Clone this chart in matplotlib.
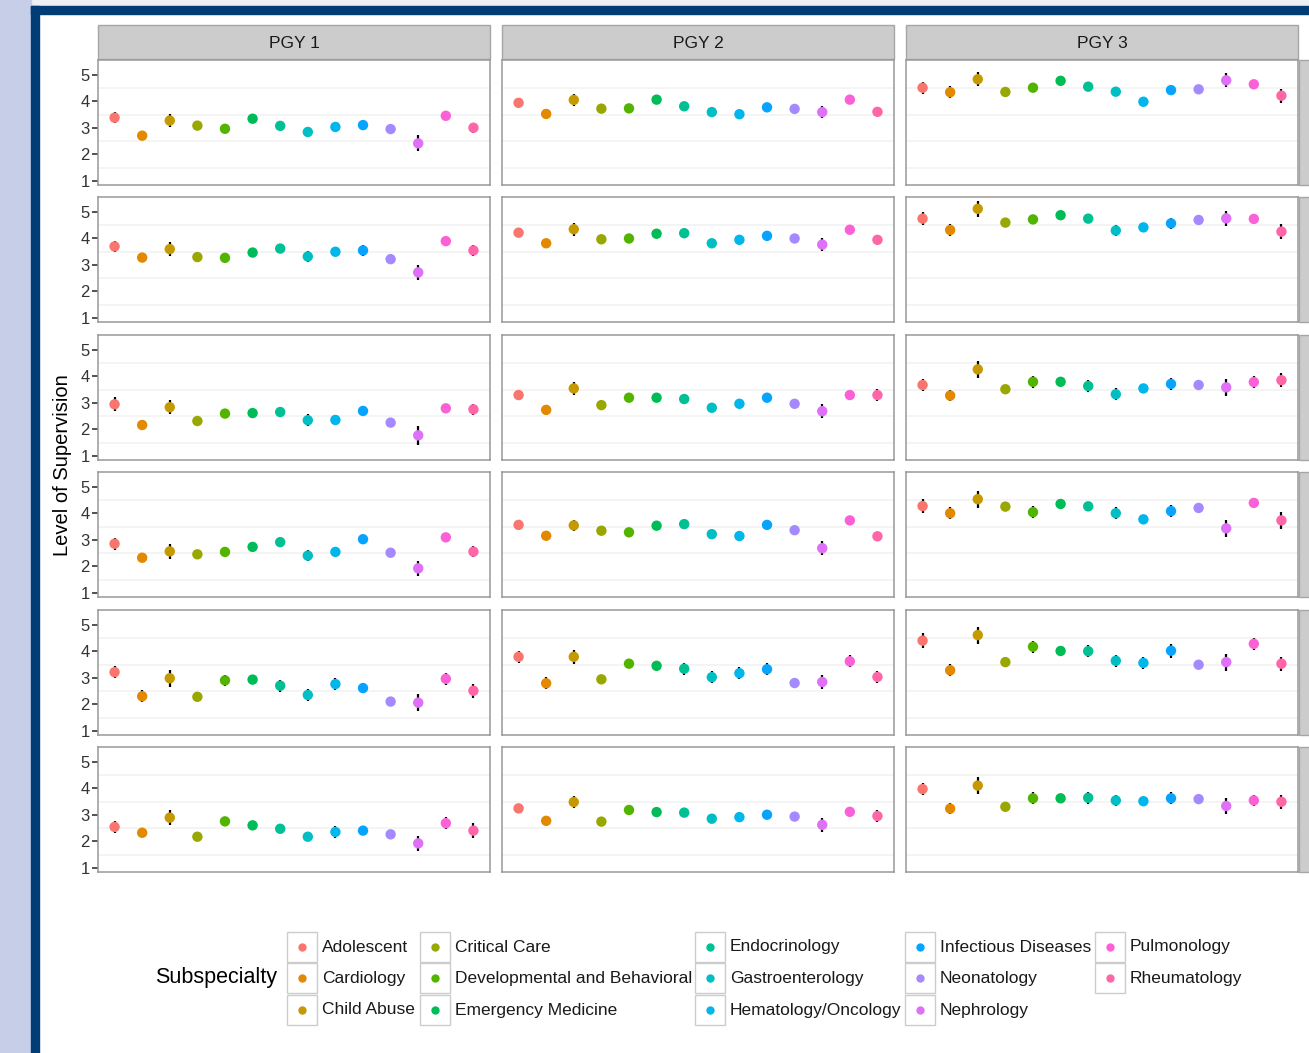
import matplotlib
matplotlib.use('Agg')
import matplotlib.pyplot as plt
from matplotlib.patches import Rectangle

plt.rcParams['font.family'] = ['Liberation Sans', 'DejaVu Sans']

W, H = 1309, 1053

#----------------------------------------
# categories
subspecialties = ['Adolescent', 'Cardiology', 'Child Abuse', 'Critical Care',
                  'Developmental and Behavioral', 'Emergency Medicine',
                  'Endocrinology', 'Gastroenterology', 'Hematology/Oncology',
                  'Infectious Diseases', 'Neonatology', 'Nephrology',
                  'Pulmonology', 'Rheumatology']
years = ['PGY 1', 'PGY 2', 'PGY 3']

# ggplot hue palette, 14 levels
colors = ['#F8766D', '#E38900', '#C49A00', '#99A800', '#53B400', '#00BC56',
          '#00C094', '#00BFC4', '#00B6EB', '#06A4FF', '#A58AFF', '#DF70F8',
          '#FB61D7', '#FF66A8']

#----------------------------------------
# mean level of supervision, one list per year (PGY 1, 2, 3), one block per facet row
row1_mean = [[3.39, 2.71, 3.28, 3.09, 2.97, 3.35, 3.08, 2.85, 3.04, 3.11, 2.96, 2.42, 3.46, 3.01],
             [3.95, 3.53, 4.06, 3.73, 3.74, 4.07, 3.82, 3.60, 3.52, 3.78, 3.72, 3.60, 4.07, 3.61],
             [4.52, 4.35, 4.84, 4.36, 4.52, 4.78, 4.56, 4.37, 3.99, 4.43, 4.46, 4.80, 4.65, 4.22]]
row1_err = [[0.22, 0.10, 0.24, 0.10, 0.10, 0.10, 0.10, 0.10, 0.10, 0.17, 0.10, 0.30, 0.17, 0.19],
            [0.10, 0.10, 0.24, 0.10, 0.10, 0.10, 0.10, 0.10, 0.10, 0.10, 0.10, 0.24, 0.10, 0.10],
            [0.22, 0.22, 0.27, 0.10, 0.10, 0.10, 0.10, 0.17, 0.10, 0.17, 0.10, 0.27, 0.10, 0.27]]

row2_mean = [[3.70, 3.28, 3.60, 3.30, 3.27, 3.47, 3.62, 3.32, 3.50, 3.55, 3.22, 2.72, 3.90, 3.55],
             [4.22, 3.82, 4.35, 3.97, 4.00, 4.18, 4.20, 3.82, 3.95, 4.10, 4.00, 3.77, 4.33, 3.95],
             [4.75, 4.32, 5.12, 4.60, 4.72, 4.88, 4.75, 4.30, 4.42, 4.57, 4.70, 4.76, 4.74, 4.26]]
row2_err = [[0.22, 0.10, 0.27, 0.10, 0.10, 0.10, 0.10, 0.22, 0.10, 0.22, 0.10, 0.27, 0.17, 0.22],
            [0.10, 0.10, 0.24, 0.10, 0.10, 0.10, 0.10, 0.10, 0.10, 0.10, 0.10, 0.24, 0.10, 0.17],
            [0.24, 0.22, 0.30, 0.10, 0.10, 0.10, 0.17, 0.22, 0.17, 0.20, 0.10, 0.27, 0.20, 0.27]]

row3_mean = [[2.95, 2.17, 2.84, 2.32, 2.60, 2.62, 2.66, 2.35, 2.36, 2.70, 2.26, 1.78, 2.80, 2.76],
             [3.30, 2.74, 3.55, 2.92, 3.20, 3.20, 3.15, 2.82, 2.97, 3.20, 2.97, 2.69, 3.30, 3.30],
             [3.68, 3.28, 4.27, 3.52, 3.80, 3.80, 3.64, 3.33, 3.55, 3.72, 3.68, 3.59, 3.79, 3.86]]
row3_err = [[0.27, 0.17, 0.27, 0.10, 0.17, 0.10, 0.10, 0.22, 0.17, 0.17, 0.10, 0.35, 0.17, 0.22],
            [0.17, 0.14, 0.24, 0.10, 0.10, 0.10, 0.10, 0.17, 0.17, 0.10, 0.10, 0.27, 0.10, 0.22],
            [0.22, 0.22, 0.32, 0.10, 0.22, 0.17, 0.22, 0.22, 0.17, 0.22, 0.10, 0.32, 0.22, 0.27]]

row4_mean = [[2.86, 2.33, 2.57, 2.46, 2.55, 2.74, 2.92, 2.41, 2.55, 3.03, 2.52, 1.93, 3.10, 2.56],
             [3.57, 3.16, 3.55, 3.35, 3.29, 3.54, 3.60, 3.22, 3.15, 3.57, 3.37, 2.69, 3.74, 3.14],
             [4.28, 4.01, 4.54, 4.26, 4.05, 4.36, 4.27, 4.01, 3.78, 4.09, 4.21, 3.44, 4.40, 3.74]]
row4_err = [[0.22, 0.17, 0.27, 0.10, 0.10, 0.10, 0.17, 0.22, 0.10, 0.17, 0.10, 0.27, 0.17, 0.22],
            [0.17, 0.10, 0.22, 0.10, 0.10, 0.10, 0.10, 0.10, 0.10, 0.10, 0.10, 0.27, 0.10, 0.17],
            [0.27, 0.22, 0.32, 0.10, 0.22, 0.10, 0.17, 0.22, 0.10, 0.22, 0.10, 0.32, 0.17, 0.32]]

row5_mean = [[3.22, 2.31, 2.99, 2.29, 2.91, 2.94, 2.71, 2.36, 2.77, 2.62, 2.11, 2.07, 2.97, 2.52],
             [3.80, 2.80, 3.80, 2.95, 3.54, 3.46, 3.35, 3.03, 3.18, 3.33, 2.81, 2.85, 3.63, 3.04],
             [4.41, 3.29, 4.62, 3.60, 4.18, 4.02, 4.01, 3.65, 3.57, 4.03, 3.50, 3.60, 4.29, 3.54]]
row5_err = [[0.22, 0.22, 0.32, 0.10, 0.22, 0.10, 0.22, 0.22, 0.22, 0.17, 0.10, 0.32, 0.22, 0.27],
            [0.22, 0.22, 0.27, 0.10, 0.17, 0.10, 0.22, 0.22, 0.22, 0.22, 0.10, 0.27, 0.22, 0.22],
            [0.27, 0.22, 0.32, 0.10, 0.22, 0.17, 0.22, 0.22, 0.22, 0.27, 0.10, 0.32, 0.22, 0.27]]

row6_mean = [[2.55, 2.33, 2.90, 2.18, 2.76, 2.61, 2.48, 2.18, 2.36, 2.41, 2.27, 1.93, 2.69, 2.41],
             [3.25, 2.78, 3.49, 2.75, 3.19, 3.11, 3.09, 2.86, 2.92, 3.01, 2.94, 2.63, 3.12, 2.96],
             [3.98, 3.24, 4.11, 3.31, 3.63, 3.63, 3.65, 3.55, 3.52, 3.63, 3.60, 3.34, 3.55, 3.50]]
row6_err = [[0.22, 0.17, 0.27, 0.10, 0.10, 0.17, 0.17, 0.17, 0.22, 0.17, 0.10, 0.27, 0.22, 0.27],
            [0.17, 0.17, 0.22, 0.10, 0.10, 0.10, 0.10, 0.17, 0.17, 0.10, 0.10, 0.27, 0.10, 0.22],
            [0.22, 0.22, 0.32, 0.10, 0.22, 0.17, 0.22, 0.22, 0.17, 0.22, 0.10, 0.32, 0.22, 0.27]]

means = [row1_mean, row2_mean, row3_mean, row4_mean, row5_mean, row6_mean]
errs = [row1_err, row2_err, row3_err, row4_err, row5_err, row6_err]

#----------------------------------------
# layout in pixels
col_x = [(98, 490), (502, 894), (906, 1298)]
row_y = [(60, 185), (197, 322), (335, 460), (472, 597), (610, 735), (747, 872)]


def frac(x0, y0, x1, y1):
    return [x0 / W, 1 - y1 / H, (x1 - x0) / W, (y1 - y0) / H]


fig = plt.figure(figsize=(W / 100, H / 100), dpi=100)

# page background (screenshot frame)
bg = fig.add_axes([0, 0, 1, 1])
bg.set_xlim(0, W)
bg.set_ylim(H, 0)
bg.axis('off')
bg.add_patch(Rectangle((0, 0), W, 6, color='#eef0f6'))
bg.add_patch(Rectangle((0, 0), 31, H, color='#c6cee8'))
bg.add_patch(Rectangle((31, 6), 8, H, color='#003d74'))
bg.add_patch(Rectangle((31, 6), W, 8, color='#003d74'))

# strips
for j, (x0, x1) in enumerate(col_x):
    bg.add_patch(Rectangle((x0, 25), x1 - x0, 34, facecolor='#cccccc',
                           edgecolor='#a6a6a6', lw=1))
    bg.text((x0 + x1) / 2, 43, years[j], ha='center', va='center',
            fontsize=12.5, color='#1a1a1a')
for (y0, y1) in row_y:
    bg.add_patch(Rectangle((1299, y0), 40, y1 - y0, facecolor='#cccccc',
                           edgecolor='#a6a6a6', lw=1))

xs = list(range(1, len(subspecialties) + 1))

for i, (y0, y1) in enumerate(row_y):
    for j, (x0, x1) in enumerate(col_x):
        ax = fig.add_axes(frac(x0, y0, x1, y1))
        ax.set_xlim(0.4, 14.6)
        ax.set_ylim(0.849, 5.566)
        for g in [1.5, 2.5, 3.5, 4.5]:
            ax.axhline(g, color='#f2f2f2', lw=1.2, zorder=0)
        ax.errorbar(xs, means[i][j], yerr=errs[i][j], fmt='none',
                    ecolor='black', elinewidth=1.6, capsize=0, zorder=2)
        ax.scatter(xs, means[i][j], c=colors, s=56, linewidths=0, zorder=3)
        ax.set_xticks([])
        ax.set_yticks([1, 2, 3, 4, 5])
        if j == 0:
            ax.tick_params(axis='y', length=4, width=1.2, color='#333333',
                           labelsize=12, labelcolor='#333333', pad=2)
        else:
            ax.tick_params(axis='y', left=False, labelleft=False)
        for s in ax.spines.values():
            s.set_color('#999999')
            s.set_linewidth(1.1)

fig.text(63 / W, 1 - 465 / H, 'Level of Supervision', rotation=90,
         ha='center', va='center', fontsize=14.5)

#----------------------------------------
# legend
leg_x = [287, 420, 695, 905, 1095]
leg_y = [947, 978, 1010]
bg.text(155, 978, 'Subspecialty', ha='left', va='center', fontsize=15.5)
for k, name in enumerate(subspecialties):
    c, r = divmod(k, 3)
    kx, ky = leg_x[c], leg_y[r]
    bg.add_patch(Rectangle((kx, ky - 15), 30, 30, facecolor='white',
                           edgecolor='#cccccc', lw=1))
    bg.plot(kx + 15, ky, 'o', color=colors[k], ms=6, mew=0)
    bg.text(kx + 35, ky, name, ha='left', va='center', fontsize=12.5,
            color='#1a1a1a')

plt.savefig('out.png', dpi=100)
